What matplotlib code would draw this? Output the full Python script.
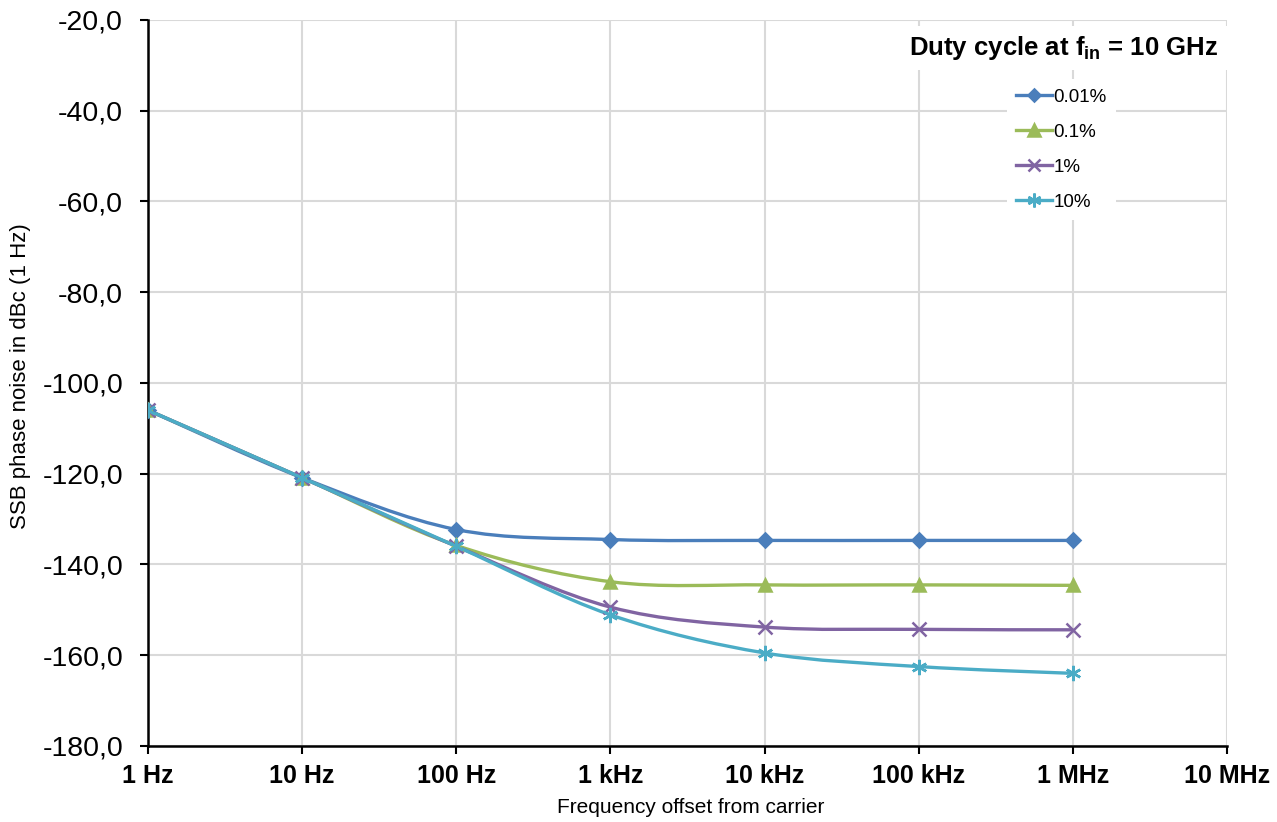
import numpy as np
import matplotlib.pyplot as plt
from matplotlib.path import Path
from matplotlib.patches import PathPatch
from matplotlib.ticker import FuncFormatter

plt.rcParams['font.family'] = ['Liberation Sans', 'DejaVu Sans']
plt.rcParams['mathtext.default'] = 'regular'

# data
freq = [1, 10, 100, 1e3, 1e4, 1e5, 1e6]
tick_freq = [1, 10, 100, 1e3, 1e4, 1e5, 1e6, 1e7]
tick_labels = ['1 Hz', '10 Hz', '100 Hz', '1 kHz', '10 kHz', '100 kHz', '1 MHz', '10 MHz']

duty_labels = ['0.01%', '0.1%', '1%', '10%']
noise_001 = [-106.0, -120.9, -132.3, -134.5, -134.7, -134.7, -134.7]
noise_01 = [-106.0, -120.9, -135.8, -143.8, -144.5, -144.5, -144.6]
noise_1 = [-106.0, -120.9, -136.0, -149.4, -153.8, -154.3, -154.4]
noise_10 = [-106.0, -120.9, -136.0, -151.1, -159.5, -162.5, -164.0]
series = [noise_001, noise_01, noise_1, noise_10]

colors = ['#4A7EBB', '#9BBB59', '#8064A2', '#4BACC6']
markers = ['D', '^', 'x', (6, 2, 0)]
msizes = [7, 9, 10, 11]


def smooth_path(xs, ys):
    # excel-like smoothed line: bezier segments in log-x space
    lx = np.log10(xs)
    ys = np.asarray(ys)
    n = len(lx)
    verts = [(xs[0], ys[0])]
    codes = [Path.MOVETO]
    for i in range(n - 1):
        i0 = max(i - 1, 0)
        i3 = min(i + 2, n - 1)
        c1x = lx[i] + (lx[i + 1] - lx[i0]) / 6
        c1y = ys[i] + (ys[i + 1] - ys[i0]) / 6
        c2x = lx[i + 1] - (lx[i3] - lx[i]) / 6
        c2y = ys[i + 1] - (ys[i3] - ys[i]) / 6
        verts += [(10 ** c1x, c1y), (10 ** c2x, c2y), (xs[i + 1], ys[i + 1])]
        codes += [Path.CURVE4] * 3
    return Path(verts, codes)


fig = plt.figure(figsize=(12.77, 8.22), dpi=100)
ax = fig.add_axes([0.1159, 0.0925, 0.845, 0.8832])

ax.set_xscale('log')
ax.set_xlim(1, 1e7)
ax.set_ylim(-180, -20)

for vals, c, m, ms, lab in zip(series, colors, markers, msizes, duty_labels):
    ax.add_patch(PathPatch(smooth_path(freq, vals), facecolor='none',
                           edgecolor=c, lw=2.4, zorder=3))
    ax.plot(freq, vals, linestyle='none', marker=m, color=c, ms=ms,
            mew=1.8, zorder=4)
    # legend handle
    ax.plot([], [], color=c, lw=2.4, marker=m, ms=ms - 1, mew=1.8, label=lab)

ax.set_xticks(tick_freq)
ax.set_xticklabels(tick_labels, fontsize=18, fontweight='bold')
ax.minorticks_off()

ax.set_yticks(np.arange(-180, -19, 20))
ax.yaxis.set_major_formatter(FuncFormatter(lambda v, p: f'{v:.1f}'.replace('.', ',')))
ax.tick_params(axis='y', labelsize=20.5, length=6, width=1.5, direction='out', pad=12)
ax.tick_params(axis='x', length=6, width=1.5, direction='out', pad=7)

ax.grid(True, color='#D9D9D9', lw=1.5)
ax.set_axisbelow(True)
for s in ['top', 'right']:
    ax.spines[s].set_visible(False)
for s in ['left', 'bottom']:
    ax.spines[s].set_linewidth(1.8)

ax.set_xlabel('Frequency offset from carrier', fontsize=15)
ax.set_ylabel('SSB phase noise in dBc (1 Hz)', fontsize=16)
ax.xaxis.set_label_coords(0.503, -0.0716)
ax.yaxis.set_label_coords(-0.1084, 0.51)

fig.text(0.833, 0.9416, r'Duty cycle at f$_{in}$ = 10 GHz', fontsize=18.5,
         fontweight='bold', ha='center', va='center',
         bbox=dict(facecolor='white', edgecolor='none', pad=6))

leg = ax.legend(loc='upper left', bbox_to_anchor=(0.781, 0.915),
                bbox_transform=fig.transFigure, frameon=True, fontsize=13.5,
                handlelength=1.9, handletextpad=0.1, labelspacing=0.95,
                borderpad=0.5, fancybox=False)
leg.get_frame().set_edgecolor('none')
leg.get_frame().set_facecolor('white')
leg.get_frame().set_alpha(1)

fig.savefig('out.png', dpi=100)
